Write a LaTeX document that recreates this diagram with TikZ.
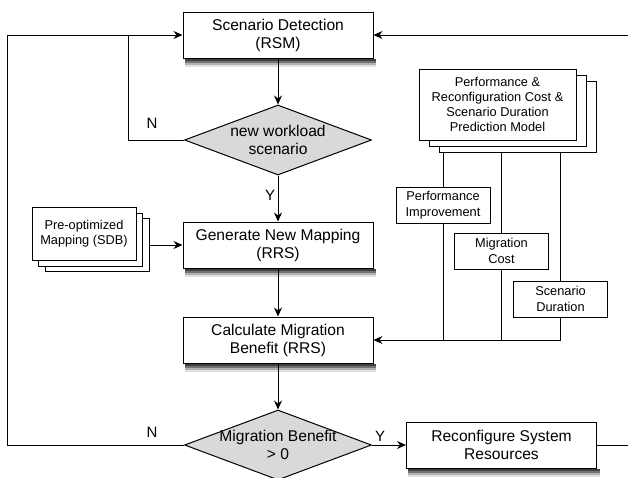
\documentclass[tikz,border=0pt]{standalone}
\usepackage{fontspec}
\setmainfont{Liberation Sans}
\usetikzlibrary{shapes.geometric,arrows.meta,shadows,calc}

% graded strip under a box, light to dark
\newcommand{\boxshade}[1]{%
    \fill[black!12] ([xshift=2pt,yshift=-0.5pt]#1.south west) rectangle ([xshift=2.5pt,yshift=-8pt]#1.south east);
    \fill[black!30] ([xshift=2pt,yshift=-0.5pt]#1.south west) rectangle ([xshift=2.5pt,yshift=-6pt]#1.south east);
    \fill[black!55] ([xshift=2pt,yshift=-0.5pt]#1.south west) rectangle ([xshift=2.5pt,yshift=-4pt]#1.south east);
    \fill[black!75] ([xshift=2pt,yshift=-0.5pt]#1.south west) rectangle ([xshift=2.5pt,yshift=-2pt]#1.south east);
}

\begin{document}
\begin{tikzpicture}[x=1pt,y=-1pt,line width=1pt,
        box/.style={draw,fill=white,minimum width=190pt,minimum height=46pt,inner sep=0pt,align=center,
            font=\fontsize{15.6}{18}\selectfont},
        decision/.style={diamond,draw,fill=black!15,minimum width=187pt,minimum height=70pt,inner sep=0pt},
        dectext/.style={align=center,font=\fontsize{15.6}{18}\selectfont},
        infobox/.style={draw,fill=white,minimum width=94pt,minimum height=36pt,inner sep=0pt,align=center,
            font=\fontsize{12.8}{15.5}\selectfont},
        stackbox/.style={draw,fill=white,inner sep=0pt,align=center,font=\fontsize{12.8}{15}\selectfont},
        tag/.style={font=\fontsize{15}{18}\selectfont},
        >={Stealth[length=9pt,width=8pt,inset=3pt]}]
    \def\X{54}      %define N branch offset
    \def\Y{177}     %define outer loop offset
    \useasboundingbox (0,0) rectangle (628,477);

    % main flow
    \node[box] (scen) at (278,35) {Scenario Detection\\(RSM)};
    \node[decision,label={[dectext]center:{new workload\\scenario}}] (dec1) at (278,140) {};
    \node[box] (gen) at (278,245) {Generate New Mapping\\(RRS)};
    \node[box] (benefit) at (278,340) {Calculate Migration\\Benefit (RRS)};
    \node[decision,label={[dectext]center:{Migration Benefit\\> 0}}] (dec2) at (278,445) {};
    \node[box] (reconf) at (501.5,445) {Reconfigure System\\Resources};
    \boxshade{scen}
    \boxshade{gen}
    \boxshade{benefit}
    \boxshade{reconf}

    % stacked inputs
    \node[stackbox,minimum width=104pt,minimum height=53pt,
        copy shadow={shadow xshift=13pt,shadow yshift=-11pt},
        copy shadow={shadow xshift=6.5pt,shadow yshift=-5.5pt}] (sdb) at (84,234)
        {Pre-optimized\\Mapping (SDB)};
    \node[stackbox,minimum width=157pt,minimum height=71pt,
        copy shadow={shadow xshift=20pt,shadow yshift=-12pt},
        copy shadow={shadow xshift=10pt,shadow yshift=-6pt}] (model) at (497.5,104.5)
        {Performance \&\\Reconfiguration Cost \&\\Scenario Duration\\Prediction Model};
    \node[infobox] (perf) at (443,205) {Performance\\Improvement};
    \node[infobox] (cost) at (501.5,251) {Migration\\Cost};
    \node[infobox] (dur) at (560.5,299) {Scenario\\Duration};

    % branch labels
    \node[tag] (n1) at (152,123) {N};
    \node[tag] (y1) at (270,195) {Y};
    \node[tag] (n2) at (152,432) {N};
    \node[tag] (y2) at (380,436) {Y};

    \coordinate (rin) at (628,35);
    \coordinate (rout) at (628,445);
    \coordinate (mbot) at ($(model.south)+(0,12)$);

    % connectors
    \draw[->] (scen) -- (dec1);
    \draw[->] (dec1) -- (gen);
    \draw[->] (gen) -- (benefit);
    \draw[->] (benefit) -- (dec2);
    \draw[->] (dec2) -- (reconf);
    \draw (reconf) -- (rout);
    \draw[->] (rin) -- (scen);
    \draw[->] (dec2.west) -- ++(-\Y,0) |- (scen.west);
    \draw (dec1.west) -| ($(scen.west)+(-\X,0)$);
    \draw[->] ($(sdb.east)+(13,11)$) -- (gen.west);
    \foreach \b in {perf,cost,dur}{
        \draw (\b.north |- mbot) -- (\b.north);
        \draw (\b.south) -- (\b.south |- benefit.east);
    }
    \draw[->] (dur.south |- benefit.east) -- (benefit.east);
\end{tikzpicture}
\end{document}
